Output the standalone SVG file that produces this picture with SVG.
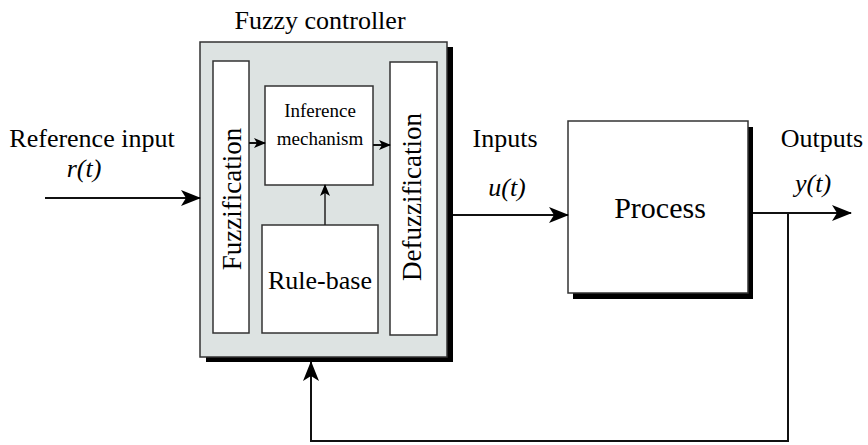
<svg xmlns="http://www.w3.org/2000/svg" width="868" height="445" viewBox="0 0 868 445">
  <style>
    .lbl { font-family: "Liberation Serif", "Times New Roman", serif; fill: #000; }
    .it { font-style: italic; }
    .box { fill: #fff; stroke: #333; stroke-width: 1.5; }
    .shadow { fill: #000; }
    .wire { fill: none; stroke: #111; stroke-width: 2; }
    .thin { fill: none; stroke: #222; stroke-width: 1.5; }
  </style>
  <defs>
    <marker id="arr" viewBox="0 0 20 16" refX="19" refY="8" markerWidth="20" markerHeight="16" markerUnits="userSpaceOnUse" orient="auto">
      <path d="M0,0 L20,8 L0,16 L5,8 Z" fill="#000"/>
    </marker>
    <marker id="arrS" viewBox="0 0 12 10" refX="11" refY="5" markerWidth="12" markerHeight="10" markerUnits="userSpaceOnUse" orient="auto">
      <path d="M0,0 L12,5 L0,10 L3,5 Z" fill="#000"/>
    </marker>
  </defs>

  <rect width="868" height="445" fill="#fff"/>

  <!-- Fuzzy controller enclosure -->
  <g id="controller">
    <rect class="shadow" x="206" y="47" width="247" height="315"/>
    <rect x="200" y="42" width="247" height="315" fill="#dde3e2" stroke="#333" stroke-width="1.5"/>
    <text class="lbl" x="320" y="29" font-size="26" text-anchor="middle">Fuzzy controller</text>
  </g>

  <g id="fuzzification">
    <rect class="box" x="213" y="61" width="36" height="272"/>
    <text class="lbl" transform="translate(241,199) rotate(-90)" font-size="27" text-anchor="middle">Fuzzification</text>
  </g>

  <g id="inference">
    <rect class="box" x="265" y="86" width="108" height="99"/>
    <text class="lbl" x="320" y="117" font-size="19" text-anchor="middle">Inference</text>
    <text class="lbl" x="320" y="145" font-size="19" text-anchor="middle">mechanism</text>
  </g>

  <g id="rulebase">
    <rect class="box" x="262" y="225" width="116" height="108"/>
    <text class="lbl" x="320" y="289" font-size="26" text-anchor="middle">Rule-base</text>
  </g>

  <g id="defuzzification">
    <rect class="box" x="390" y="62" width="47" height="273"/>
    <text class="lbl" transform="translate(421,197) rotate(-90)" font-size="27" text-anchor="middle">Defuzzification</text>
  </g>

  <g id="process">
    <rect class="shadow" x="573" y="127" width="180" height="172"/>
    <rect class="box" x="568" y="121" width="180" height="172"/>
    <text class="lbl" x="660" y="218" font-size="30" text-anchor="middle">Process</text>
  </g>

  <!-- Signal labels -->
  <g id="labels">
    <text class="lbl" x="92" y="147" font-size="26" text-anchor="middle">Reference input</text>
    <text class="lbl it" x="84" y="177" font-size="26" text-anchor="middle">r(t)</text>
    <text class="lbl" x="505" y="147" font-size="26" text-anchor="middle">Inputs</text>
    <text class="lbl it" x="507" y="196" font-size="26" text-anchor="middle">u(t)</text>
    <text class="lbl" x="822" y="147" font-size="26" text-anchor="middle">Outputs</text>
    <text class="lbl it" x="813" y="192" font-size="26" text-anchor="middle">y(t)</text>
  </g>

  <!-- Connectors -->
  <g id="connectors">
    <line class="wire" x1="45" y1="198" x2="200" y2="198" marker-end="url(#arr)"/>
    <line class="wire" x1="249" y1="143" x2="265" y2="143" marker-end="url(#arrS)"/>
    <line class="wire" x1="373" y1="145" x2="390" y2="145" marker-end="url(#arrS)"/>
    <line class="thin" x1="325" y1="225" x2="325" y2="185" marker-end="url(#arrS)"/>
    <line class="wire" x1="453" y1="215" x2="568" y2="215" marker-end="url(#arr)"/>
    <line class="wire" x1="753" y1="213" x2="851" y2="213" marker-end="url(#arr)"/>
    <polyline class="wire" points="788,213 788,441 311,441 311,362" stroke="#333" marker-end="url(#arr)"/>
  </g>
</svg>
